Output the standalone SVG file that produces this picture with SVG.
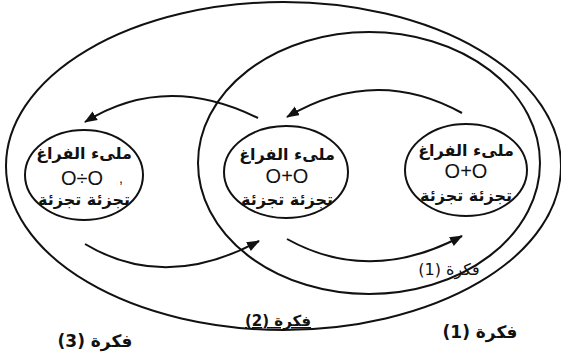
<svg xmlns="http://www.w3.org/2000/svg" width="561" height="356" viewBox="0 0 561 356">
<style>
.ring{fill:none;stroke:#111;stroke-width:2}
.node{fill:none;stroke:#111;stroke-width:2}
.ar{font-family:"DejaVu Sans",sans-serif;font-size:16px;font-weight:bold;fill:#111;text-anchor:middle}
.num{font-family:"Liberation Sans",Arial,sans-serif;font-size:20px;fill:#111;text-anchor:middle}
.lbl{font-family:"DejaVu Sans",sans-serif;font-size:17px;font-weight:bold;fill:#111;text-anchor:middle}
.conn{fill:none;stroke:#111;stroke-width:2}
</style>
<defs>
<marker id="ah" markerUnits="userSpaceOnUse" markerWidth="14" markerHeight="11" refX="12" refY="5" orient="auto">
<path d="M0,0 L13,5 L0,10 Z" fill="#111"/>
</marker>
</defs>
<rect width="561" height="356" fill="#fff"/>
<g id="idea3-region">
<ellipse class="ring" cx="283.5" cy="166" rx="277.5" ry="164"/>
</g>
<g id="idea1-region">
<ellipse class="ring" cx="369" cy="163" rx="171" ry="131"/>
</g>
<g id="node-left">
<ellipse class="node" cx="84" cy="175" rx="59" ry="45"/>
<text class="ar" x="84" y="159" direction="rtl">ملىء الفراغ</text>
<text class="num" x="82" y="185">O÷O</text>
<text class="num" x="121" y="183" style="font-size:14px">,</text>
<text class="ar" x="84" y="205" direction="rtl">تجزئة تجزئة</text>
</g>
<g id="node-middle">
<ellipse class="node" cx="286" cy="172" rx="62" ry="46"/>
<text class="ar" x="287" y="160" direction="rtl">ملىء الفراغ</text>
<text class="num" x="287" y="183">O+O</text>
<text class="ar" x="287" y="205" direction="rtl">تجزئة تجزئة</text>
</g>
<g id="node-right">
<ellipse class="node" cx="466" cy="170" rx="61" ry="46"/>
<text class="ar" x="466" y="156" direction="rtl">ملىء الفراغ</text>
<text class="num" x="466" y="178">O+O</text>
<text class="ar" x="466" y="201" direction="rtl">تجزئة تجزئة</text>
</g>
<g id="connectors">
<path class="conn" d="M258,118 Q165,72 85,122" marker-end="url(#ah)"/>
<path class="conn" d="M462,113 Q375,65 287,117" marker-end="url(#ah)"/>
<path class="conn" d="M85,244 Q165,292 259,241" marker-end="url(#ah)"/>
<path class="conn" d="M287,239 Q370,285 462,236" marker-end="url(#ah)"/>
</g>
<g id="labels">
<text class="ar" x="449" y="275" direction="rtl" style="font-weight:normal">فكرة (1)</text>
<text class="lbl" x="278" y="326" direction="rtl" style="font-size:15px;text-decoration:underline">فكرة (2)</text>
<text class="lbl" x="480" y="338" direction="rtl">فكرة (1)</text>
<text class="lbl" x="95" y="347" direction="rtl">فكرة (3)</text>
</g>
</svg>
